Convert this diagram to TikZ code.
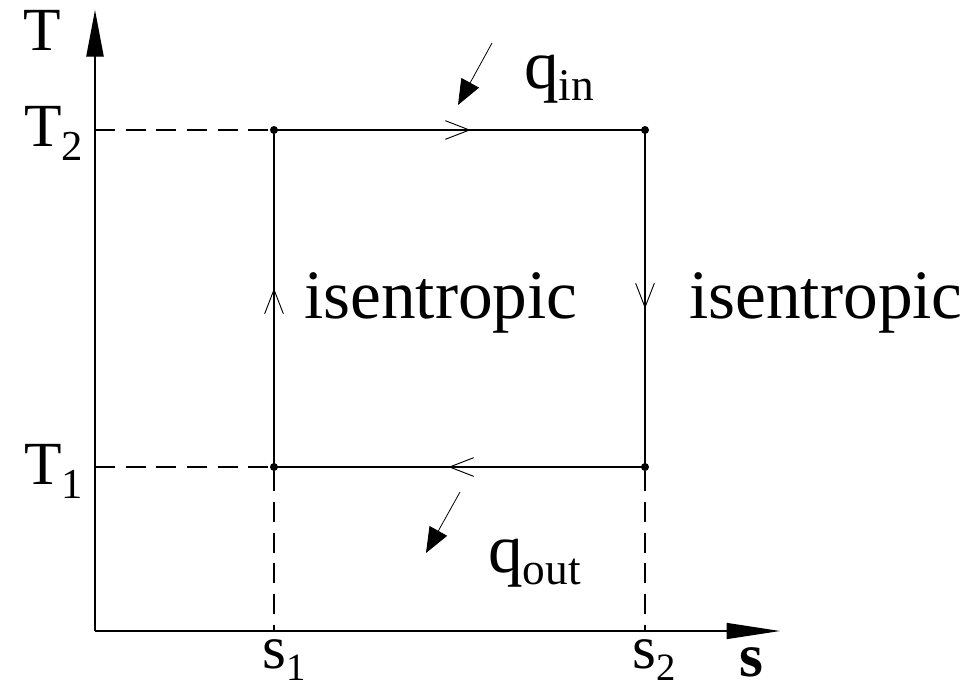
\documentclass[tikz,border=0pt]{standalone}
\usepackage{fontspec}
\setmainfont{Liberation Serif}
\usetikzlibrary{arrows.meta,decorations.markings}
\begin{document}
\begin{tikzpicture}[x=0.75pt,y=-0.75pt,
  lbl/.style={inner sep=0pt, font=\fontsize{46}{50}\selectfont},
  big/.style={inner sep=0pt, font=\fontsize{52}{56}\selectfont},
  axisline/.style={line width=1pt},
  dsh/.style={line width=0.9pt, dash pattern=on 15pt off 8pt},
  cyc/.style={line width=1pt, postaction={decorate},
    decoration={markings, mark=at position 0.53 with {\arrow{Straight Barb[length=18pt,width=14pt,line width=0.7pt]}}}},
  qarr/.style={line width=0.6pt, -{Triangle[length=19pt,width=15pt]}},
  dot/.style={circle, fill=black, inner sep=0pt, minimum size=6pt}
]
\useasboundingbox (0,0) rectangle (974,689);
% axes
\coordinate (O) at (95,631);
\coordinate (Ytip) at (95,10);
\coordinate (Xtip) at (780,631);
\draw[axisline, -{Triangle[length=35pt,width=13pt]}] (O) -- (Ytip);
\draw[axisline, -{Triangle[length=40pt,width=12pt]}] (O) -- (Xtip);
% axis points
\coordinate (YT2) at (95,130);
\coordinate (YT1) at (95,467);
\coordinate (XS1) at (274,631);
\coordinate (XS2) at (645,631);
% cycle corners
\node[dot] (A) at (274,130) {};
\node[dot] (B) at (645,130) {};
\node[dot] (C) at (645,467) {};
\node[dot] (D) at (274,467) {};
% dashed guides
\draw[dsh] (YT2) -- (A);
\draw[dsh] (YT1) -- (D);
\draw[dsh] (D) -- (XS1);
\draw[dsh] (C) -- (XS2);
% cycle
\draw[cyc] (A.center) -- (B.center);
\draw[cyc] (B.center) -- (C.center);
\draw[cyc] (C.center) -- (D.center);
\draw[cyc] (D.center) -- (A.center);
% heat arrows
\coordinate (qi1) at (492,43);
\coordinate (qi2) at (458,105);
\coordinate (qo1) at (460,492);
\coordinate (qo2) at (426,553);
\draw[qarr] (qi1) -- (qi2);
\draw[qarr] (qo1) -- (qo2);
% labels
\node[lbl] (Tlab) at (42,30) {T};
\node[lbl, anchor=base west] (T2lab) at (24,146) {T\raisebox{-11pt}{\fontsize{32}{32}\selectfont 2}};
\node[lbl, anchor=base west] (T1lab) at (24,484) {T\raisebox{-11pt}{\fontsize{32}{32}\selectfont 1}};
\node[lbl, anchor=base west] (s1lab) at (262,668) {s\raisebox{-9pt}{\fontsize{29}{29}\selectfont 1}};
\node[lbl, anchor=base west] (s2lab) at (632,668) {s\raisebox{-9pt}{\fontsize{29}{29}\selectfont 2}};
\node[lbl, anchor=base west] (slab) at (739,676) {\textbf{s}};
\node[big, anchor=base west] (qin) at (524,88) {q\raisebox{-9pt}{\fontsize{34}{34}\selectfont in}};
\node[big, anchor=base west] (qout) at (488,572) {q\raisebox{-9pt}{\fontsize{34}{34}\selectfont out}};
\node[big, anchor=base west] (isoL) at (304,318) {isentropic};
\node[big, anchor=base west] (isoR) at (689,318) {isentropic};
\end{tikzpicture}
\end{document}
